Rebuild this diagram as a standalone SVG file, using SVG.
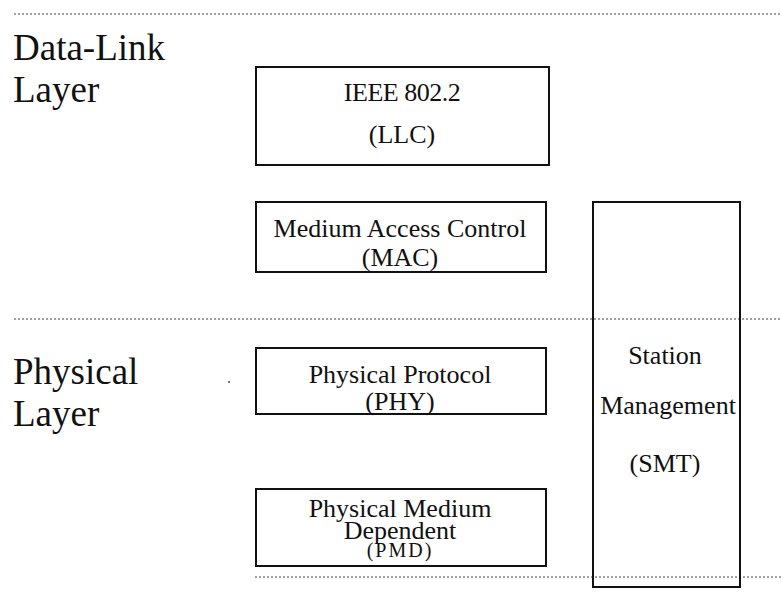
<svg xmlns="http://www.w3.org/2000/svg" width="781" height="605" viewBox="0 0 781 605">
  <style>
    .box { fill: none; stroke: #111; stroke-width: 2; }
    .sep { stroke: #444; stroke-width: 1; stroke-dasharray: 2 2; fill: none; }
    .layer { font-family: "Liberation Serif", "Times New Roman", serif; font-size: 37px; fill: #111; }
    .lbl { font-family: "Liberation Serif", "Times New Roman", serif; font-size: 26px; fill: #111; text-anchor: middle; }
  </style>
  <rect width="781" height="605" fill="#fff"/>

  <!-- layer separators -->
  <g id="separators">
    <line class="sep" x1="14" y1="14" x2="781" y2="14"/>
    <line class="sep" x1="14" y1="319" x2="781" y2="319"/>
    <line class="sep" x1="255" y1="577" x2="781" y2="577"/>
  </g>

  <!-- layer names -->
  <g id="layer-datalink">
    <text class="layer" x="13" y="60">Data-Link</text>
    <text class="layer" x="13" y="102">Layer</text>
  </g>
  <g id="layer-physical">
    <text class="layer" x="13" y="384">Physical</text>
    <text class="layer" x="13" y="426">Layer</text>
  </g>

  <g id="llc">
    <rect class="box" x="256" y="67" width="293" height="98"/>
    <text class="lbl" x="402" y="101" style="letter-spacing:-0.5px">IEEE 802.2</text>
    <text class="lbl" x="402" y="143">(LLC)</text>
  </g>

  <g id="mac">
    <rect class="box" x="256" y="202" width="290" height="70"/>
    <text class="lbl" x="400" y="237">Medium Access Control</text>
    <text class="lbl" x="400" y="266">(MAC)</text>
  </g>

  <g id="phy">
    <rect class="box" x="256" y="348" width="290" height="66"/>
    <text class="lbl" x="400" y="383">Physical Protocol</text>
    <text class="lbl" x="400" y="410">(PHY)</text>
  </g>

  <g id="pmd">
    <rect class="box" x="256" y="489" width="290" height="77"/>
    <text class="lbl" x="400" y="517">Physical Medium</text>
    <text class="lbl" x="400" y="539">Dependent</text>
    <text class="lbl" x="400" y="557" style="font-size:20px;letter-spacing:2px">(PMD)</text>
  </g>

  <g id="smt">
    <rect class="box" x="593" y="202" width="147" height="385"/>
    <text class="lbl" x="665" y="364">Station</text>
    <text class="lbl" x="668" y="414">Management</text>
    <text class="lbl" x="665" y="472">(SMT)</text>
  </g>

  <circle cx="229" cy="382" r="1" fill="#444"/>
</svg>
